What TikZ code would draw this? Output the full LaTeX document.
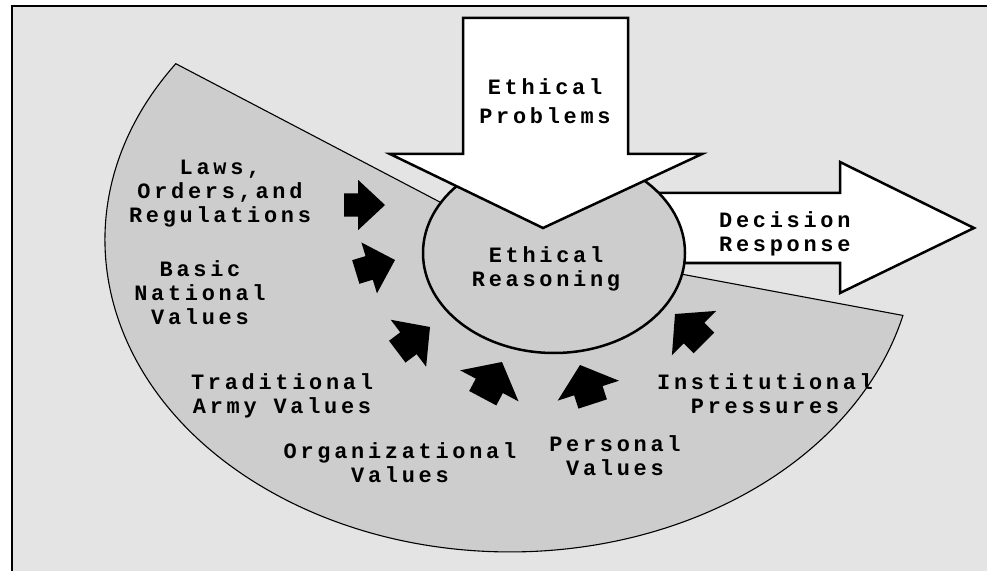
\documentclass[tikz,border=0pt]{standalone}
\usepackage{fontspec}
\newfontfamily\courfont[LetterSpace=17]{Liberation Mono}
\usetikzlibrary{shapes.geometric}
\definecolor{backgray}{RGB}{228,228,228}
\definecolor{fangray}{RGB}{205,205,205}
\tikzset{
  lbl/.style={font=\courfont\bfseries\fontsize{22}{24}\selectfont, align=center, inner sep=0pt},
  bigarrow/.style={draw, fill=white, line width=2.5bp, line join=miter},
  pusharrow/.style={fill=black},
}
\begin{document}
\begin{tikzpicture}[x=1bp, y=-1bp]
\useasboundingbox (0,0) rectangle (987,571);
\fill[backgray] (12,6) rectangle (987,571);
\draw[line width=1.5bp] (12,571) -- (12,6) -- (987,6);
% the fan of influences
\filldraw[fill=fangray, line width=1.1bp] (520,244) -- (175.8,63.7) arc[start angle=214.4, end angle=14, x radius=405, y radius=312] -- cycle;
% decision arrow
\draw[bigarrow] (600,193) -- (840,193) -- (840,162) -- (974,228) -- (840,293) -- (840,263) -- (600,263) -- cycle;
\node[draw, ellipse, fill=fangray, line width=2.5bp, minimum width=262bp, minimum height=200bp, inner sep=0pt] (reason) at (554,253) {};
% problems arrow
\draw[bigarrow] (463,18) -- (628,18) -- (628,154) -- (702,154) -- (543,228) -- (390,154) -- (463,154) -- cycle;
% small pushing arrows
\foreach \x/\y/\a/\w in {385/205/0/0.9, 395/260/17/0.95, 430/327/37/1.05, 502/362/62/1.18, 580/365/108/1.15, 675/314/135/1.12}
  \fill[pusharrow, shift={(\x,\y)}, rotate=\a, yscale=\w] (0,0) -- (-27,28) -- (-27,13) -- (-41,13) -- (-41,-13) -- (-27,-13) -- (-27,-28) -- cycle;
\node[lbl, font=\courfont\bfseries\fontsize{22}{29}\selectfont] (problems) at (545,101) {Ethical\\Problems};
\node[lbl] (reasoning) at (546,269) {Ethical\\Reasoning};
\node[lbl, align=left, anchor=west] (decision) at (719,234) {Decision\\Response};
\node[lbl] (laws) at (220,194) {Laws,\\Orders,and\\Regulations};
\node[lbl] (national) at (200,293) {Basic\\National\\Values};
\node[lbl] (army) at (282,396) {Traditional\\Army Values};
\node[lbl] (organization) at (400,463) {Organizational\\Values};
\node[lbl] (personal) at (615,456) {Personal\\Values};
\node[lbl] (institution) at (765,394) {Institutional\\Pressures};
\end{tikzpicture}
\end{document}
